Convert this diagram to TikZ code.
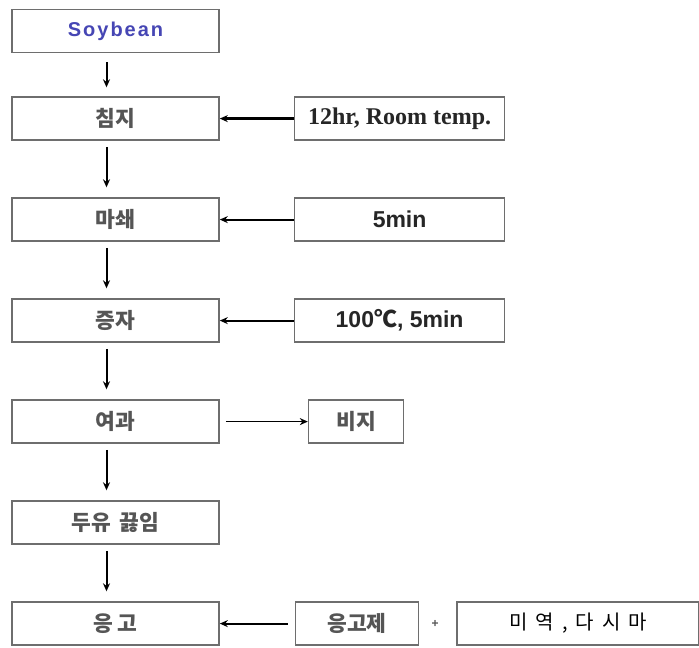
\documentclass[tikz,border=0pt]{standalone}
\usepackage{fontspec}
\setmainfont{Liberation Serif}
\setsansfont{Liberation Sans}
\newfontfamily\kor{Noto Sans CJK KR}
\usetikzlibrary{arrows.meta, positioning}
\definecolor{cgrey}{HTML}{555555}
\definecolor{cline}{HTML}{6E6E6E}
\definecolor{cblue}{HTML}{4646B4}
\newcommand{\gap}{\hspace{0.4em}}
\tikzset{
  every picture/.style={line width=1.6pt},
  box/.style={draw=cline, fill=white, inner sep=0pt, minimum height=43pt, minimum width=207pt, align=center, text=cgrey, font=\kor\bfseries\fontsize{21.5}{24}\selectfont},
  side/.style={box, minimum width=210pt},
  arrow/.style={-{Stealth[length=8pt, width=7pt]}, draw=black, line width=2pt},
  down/.style={arrow, shorten <=6pt, shorten >=10pt},
  note/.style={font=\sffamily\bfseries\fontsize{23}{25}\selectfont, text=black!85},
}
\begin{document}
\begin{tikzpicture}[node distance=56.4pt and 74pt]
  \useasboundingbox (0,0) rectangle (699pt,-648pt);
  % main line
  \node[box, text=cblue, font=\sffamily\bfseries\addfontfeature{LetterSpace=10}\fontsize{20}{22}\selectfont] (soy) at (115.5pt,-31pt) {Soybean};
  \node[box, below=43pt of soy] (soak) {침지};
  \node[box, below=of soak] (grind) {마쇄};
  \node[box, below=of grind] (steam) {증자};
  \node[box, below=of steam] (filt) {여과};
  \node[box, below=of filt] (boil) {두유\gap 끓임};
  \node[box, below=of boil] (coag) {응 고};
  % side conditions
  \node[side, right=of soak, font=\rmfamily\bfseries\fontsize{24}{26}\selectfont, text=black!85] (soakc) {12hr, Room temp.};
  \node[side, right=of grind, note] (grindc) {5min};
  \node[side, right=of steam, note] (steamc) {100{\kor ℃}, 5min};
  \node[box, minimum width=95pt, right=88pt of filt] (okara) {비지};
  \node[box, minimum width=123pt, right=75pt of coag] (agent) {응고제};
  \node[right=8pt of agent, text=cgrey, font=\sffamily\bfseries\large] (plus) {+};
  \node[box, minimum width=242pt, right=37pt of agent, text=black, font=\kor\fontsize{20}{22}\selectfont] (kelp) {미\gap 역\gap,\gap 다\gap 시\gap 마};
  % arrows
  \draw[arrow, shorten <=9pt, shorten >=9pt] ([xshift=-9pt]soy.south) -- ([xshift=-9pt]soak.north);
  \draw[down] ([xshift=-9pt]soak.south) -- ([xshift=-9pt]grind.north);
  \draw[down] ([xshift=-9pt]grind.south) -- ([xshift=-9pt]steam.north);
  \draw[down] ([xshift=-9pt]steam.south) -- ([xshift=-9pt]filt.north);
  \draw[down] ([xshift=-9pt]filt.south) -- ([xshift=-9pt]boil.north);
  \draw[down] ([xshift=-9pt]boil.south) -- ([xshift=-9pt]coag.north);
  \draw[arrow, line width=2.6pt] (soakc) -- (soak);
  \draw[arrow] (grindc) -- (grind);
  \draw[arrow] (steamc) -- (steam);
  \draw[arrow, line width=1.4pt, shorten <=6pt] (filt) -- (okara);
  \draw[arrow, shorten <=7pt] (agent) -- (coag);
\end{tikzpicture}
\end{document}
